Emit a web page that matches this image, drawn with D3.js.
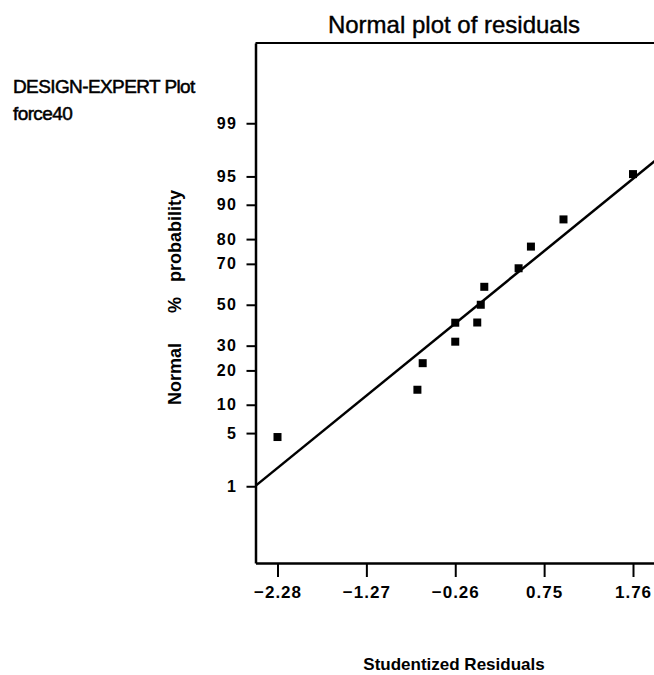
<!DOCTYPE html>
<html>
<head>
<meta charset="utf-8">
<script src="https://cdn.jsdelivr.net/npm/d3@7"></script>
<style>
    body { margin: 0; background: #ffffff; }
    #chart text { font-family: 'Liberation Sans', Arial, sans-serif; fill: #000; }
</style>
</head>
<body>
<div id="chart"></div>
<script>
// Residuals (x) and their normal % probability (y)
let residuals = [-2.28, -0.69, -0.63, -0.26, -0.26, -0.01, 0.03, 0.07, 0.46, 0.60, 0.97, 1.76];
let probabilities = [4.5, 13.8, 22.7, 31.8, 40.9, 41.0, 50.0, 59.1, 68.0, 77.2, 86.3, 95.3];

// Axis ticks
let xTicks = [-2.28, -1.27, -0.26, 0.75, 1.76];
let yTicks = [1, 5, 10, 20, 30, 50, 70, 80, 90, 95, 99];

// Reference line through the residuals (mean, sd)
let fitMean = 0.0;
let fitSd = 1.09;

// Inverse normal cdf (Acklam's approximation)
function probit(p) {
    let a = [-3.969683028665376e+01, 2.209460984245205e+02, -2.759285104469687e+02, 1.383577518672690e+02, -3.066479806614716e+01, 2.506628277459239e+00];
    let b = [-5.447609879822406e+01, 1.615858368580409e+02, -1.556989798598866e+02, 6.680131188771972e+01, -1.328068155288572e+01];
    let c = [-7.784894002430293e-03, -3.223964580411365e-01, -2.400758277161838e+00, -2.549732539343734e+00, 4.374664141464968e+00, 2.938163982698783e+00];
    let d = [7.784695709041462e-03, 3.224671290700398e-01, 2.445134137142996e+00, 3.754408661907416e+00];
    let pl = 0.02425;
    if (p < pl) {
        let q = Math.sqrt(-2 * Math.log(p));
        return (((((c[0] * q + c[1]) * q + c[2]) * q + c[3]) * q + c[4]) * q + c[5]) / ((((d[0] * q + d[1]) * q + d[2]) * q + d[3]) * q + 1);
    }
    if (p <= 1 - pl) {
        let q = p - 0.5, r = q * q;
        return (((((a[0] * r + a[1]) * r + a[2]) * r + a[3]) * r + a[4]) * r + a[5]) * q / (((((b[0] * r + b[1]) * r + b[2]) * r + b[3]) * r + b[4]) * r + 1);
    }
    let q = Math.sqrt(-2 * Math.log(1 - p));
    return -(((((c[0] * q + c[1]) * q + c[2]) * q + c[3]) * q + c[4]) * q + c[5]) / ((((d[0] * q + d[1]) * q + d[2]) * q + d[3]) * q + 1);
}

let W = 654, H = 675;
let plot = { left: 255.5, right: 655, top: 43, bottom: 563 };

let svg = d3.select('#chart')
    .append('svg')
    .attr('width', W)
    .attr('height', H);

// Scales: x in residual units, y in normal quantile (z) units
let xScale = d3.scaleLinear()
    .domain([-2.53, 2.01])
    .range([plot.left, plot.right]);

let yScale = d3.scaleLinear()
    .domain([-3.31, 3.355])
    .range([plot.bottom, plot.top]);

svg.append('defs')
    .append('clipPath')
    .attr('id', 'plotClip')
    .append('rect')
    .attr('x', plot.left)
    .attr('y', plot.top)
    .attr('width', plot.right - plot.left)
    .attr('height', plot.bottom - plot.top);

// Frame (top and right)
svg.append('path')
    .attr('d', 'M' + plot.left + ',' + plot.top + 'H' + plot.right + 'V' + plot.bottom)
    .attr('fill', 'none')
    .attr('stroke', '#000')
    .attr('stroke-width', 2);

// X axis
let xAxis = d3.axisBottom(xScale)
    .tickValues(xTicks)
    .tickFormat(d3.format('.2f'))
    .tickSizeInner(14)
    .tickSizeOuter(0)
    .tickPadding(9);

let xNode = svg.append('g')
    .attr('transform', 'translate(0,' + plot.bottom + ')')
    .call(xAxis);
xNode.select('.domain').attr('stroke-width', 2.5);
xNode.selectAll('.tick line').attr('stroke-width', 2);
xNode.selectAll('text')
    .style('font-size', '17px')
    .style('font-weight', 'bold')
    .style('letter-spacing', '1px');

// Y axis
let yAxis = d3.axisLeft(yScale)
    .tickValues(yTicks.map(p => probit(p / 100)))
    .tickFormat((d, i) => yTicks[i])
    .tickSizeInner(9)
    .tickSizeOuter(0)
    .tickPadding(9);

let yNode = svg.append('g')
    .attr('transform', 'translate(' + plot.left + ',0)')
    .call(yAxis);
yNode.select('.domain').attr('stroke-width', 2.5);
yNode.selectAll('.tick line').attr('stroke-width', 2);
yNode.selectAll('text')
    .style('font-size', '16px')
    .style('font-weight', 'bold')
    .style('letter-spacing', '1.5px');

// Reference line
let xd = xScale.domain();
svg.append('line')
    .attr('clip-path', 'url(#plotClip)')
    .attr('x1', xScale(xd[0]))
    .attr('y1', yScale((xd[0] - fitMean) / fitSd))
    .attr('x2', xScale(xd[1]))
    .attr('y2', yScale((xd[1] - fitMean) / fitSd))
    .attr('stroke', '#000')
    .attr('stroke-width', 2.5);

// Residual points
let points = residuals.map((r, i) => ({ r: r, p: probabilities[i] }));
svg.selectAll('.pt')
    .data(points)
    .enter().append('rect')
    .attr('class', 'pt')
    .attr('x', d => xScale(d.r) - 4)
    .attr('y', d => yScale(probit(d.p / 100)) - 4)
    .attr('width', 8)
    .attr('height', 8)
    .attr('fill', '#000');

// Titles (scanned text looks heavy, so add a thin stroke)
svg.append('text')
    .attr('x', 454)
    .attr('y', 33)
    .attr('text-anchor', 'middle')
    .style('font-size', '24px')
    .style('stroke', '#000')
    .style('stroke-width', '0.4px')
    .text('Normal plot of residuals');

svg.append('text')
    .attr('x', 13)
    .attr('y', 93)
    .style('font-size', '19px')
    .style('letter-spacing', '-0.6px')
    .style('stroke', '#000')
    .style('stroke-width', '0.5px')
    .text('DESIGN-EXPERT Plot');

svg.append('text')
    .attr('x', 13)
    .attr('y', 120)
    .style('font-size', '19px')
    .style('letter-spacing', '-0.6px')
    .style('stroke', '#000')
    .style('stroke-width', '0.5px')
    .text('force40');

svg.append('text')
    .attr('x', 454)
    .attr('y', 670)
    .attr('text-anchor', 'middle')
    .style('font-size', '17px')
    .style('font-weight', 'bold')
    .text('Studentized Residuals');

// Y axis title, spread out like the original
let yTitle = svg.append('text')
    .attr('transform', 'translate(181,405) rotate(-90)')
    .style('font-size', '18px')
    .style('font-weight', 'bold');
yTitle.append('tspan').attr('x', 0).text('Normal');
yTitle.append('tspan').attr('x', 92).text('%');
yTitle.append('tspan').attr('x', 123).text('probability');
</script>
</body>
</html>
